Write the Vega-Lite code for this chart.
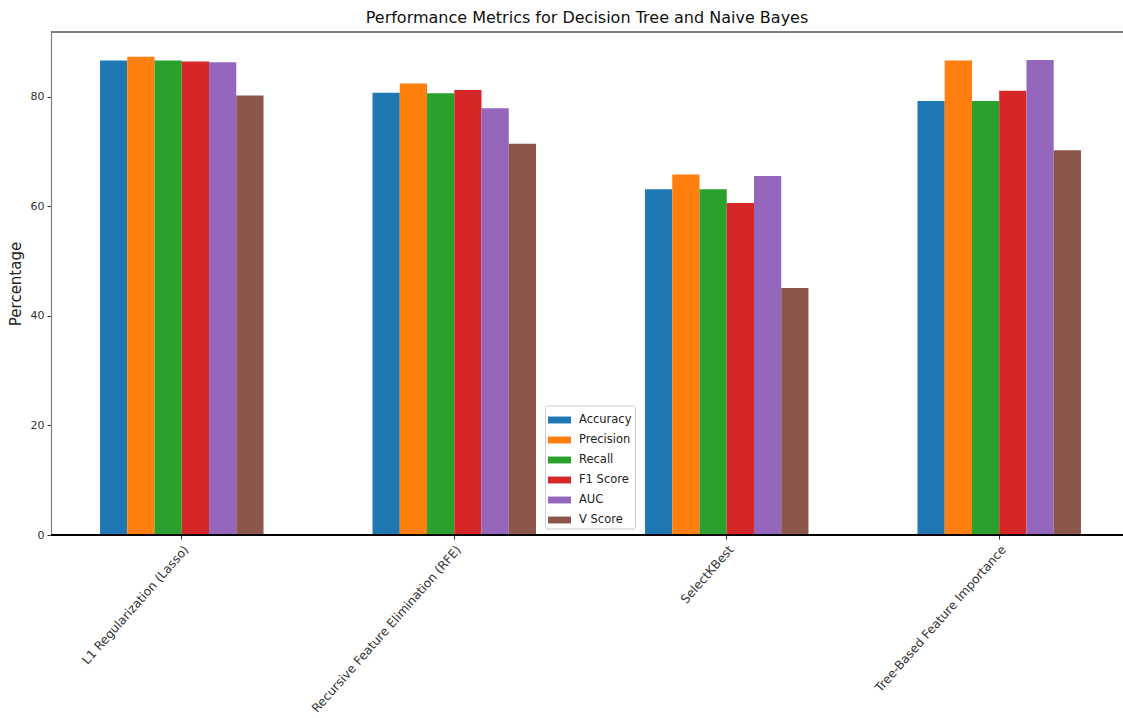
{
  "$schema": "https://vega.github.io/schema/vega-lite/v6.json",
  "autosize": "none",
  "width": 1072,
  "height": 503,
  "padding": {"left": 51, "top": 32, "right": 0, "bottom": 183},
  "background": "white",
  "config": {
    "font": "DejaVu Sans",
    "view": {"stroke": null},
    "axis": {"labelColor": "#333333", "titleColor": "#222222", "tickColor": "#333333", "labelFontSize": 11, "labelFont": "DejaVu Sans", "titleFont": "DejaVu Sans"}
  },
  "title": {"text": "Performance Metrics for Decision Tree and Naive Bayes", "fontSize": 16, "fontWeight": "normal", "color": "#111111", "font": "DejaVu Sans", "offset": 5},
  "data": {"values": [
    {"method": "L1 Regularization (Lasso)", "metric": "Accuracy", "value": 86.6},
    {"method": "L1 Regularization (Lasso)", "metric": "Precision", "value": 87.3},
    {"method": "L1 Regularization (Lasso)", "metric": "Recall", "value": 86.6},
    {"method": "L1 Regularization (Lasso)", "metric": "F1 Score", "value": 86.4},
    {"method": "L1 Regularization (Lasso)", "metric": "AUC", "value": 86.3},
    {"method": "L1 Regularization (Lasso)", "metric": "V Score", "value": 80.2},
    {"method": "Recursive Feature Elimination (RFE)", "metric": "Accuracy", "value": 80.7},
    {"method": "Recursive Feature Elimination (RFE)", "metric": "Precision", "value": 82.4},
    {"method": "Recursive Feature Elimination (RFE)", "metric": "Recall", "value": 80.6},
    {"method": "Recursive Feature Elimination (RFE)", "metric": "F1 Score", "value": 81.2},
    {"method": "Recursive Feature Elimination (RFE)", "metric": "AUC", "value": 77.9},
    {"method": "Recursive Feature Elimination (RFE)", "metric": "V Score", "value": 71.4},
    {"method": "SelectKBest", "metric": "Accuracy", "value": 63.1},
    {"method": "SelectKBest", "metric": "Precision", "value": 65.8},
    {"method": "SelectKBest", "metric": "Recall", "value": 63.1},
    {"method": "SelectKBest", "metric": "F1 Score", "value": 60.6},
    {"method": "SelectKBest", "metric": "AUC", "value": 65.5},
    {"method": "SelectKBest", "metric": "V Score", "value": 45.1},
    {"method": "Tree-Based Feature Importance", "metric": "Accuracy", "value": 79.2},
    {"method": "Tree-Based Feature Importance", "metric": "Precision", "value": 86.6},
    {"method": "Tree-Based Feature Importance", "metric": "Recall", "value": 79.2},
    {"method": "Tree-Based Feature Importance", "metric": "F1 Score", "value": 81.1},
    {"method": "Tree-Based Feature Importance", "metric": "AUC", "value": 86.7},
    {"method": "Tree-Based Feature Importance", "metric": "V Score", "value": 70.2}
  ]},
  "layer": [
    {
      "mark": {"type": "bar"},
      "encoding": {
        "x": {
          "field": "method", "type": "nominal", "sort": null,
          "scale": {"range": [0, 1079], "paddingInner": 0.4, "paddingOuter": 0.18},
          "axis": {"title": null, "labelAngle": -48.5, "labelAlign": "right", "labelBaseline": "top", "labelPadding": 4, "labelDx": -7, "labelFontSize": 12.2, "tickSize": 4, "domain": false, "bandPosition": 0.5, "labelLimit": 400}
        },
        "xOffset": {"field": "metric", "type": "nominal", "sort": ["Accuracy", "Precision", "Recall", "F1 Score", "AUC", "V Score"]},
        "y": {
          "field": "value", "type": "quantitative",
          "scale": {"domain": [0, 91.8], "nice": false, "zero": true},
          "axis": {"title": "Percentage", "titleFontSize": 15, "titleFontWeight": "normal", "titlePadding": 7, "values": [0, 20, 40, 60, 80], "grid": false, "tickSize": 4, "labelPadding": 3, "domain": true, "domainColor": "#7f7f7f", "domainWidth": 1.2}
        },
        "color": {
          "field": "metric", "type": "nominal",
          "sort": ["Accuracy", "Precision", "Recall", "F1 Score", "AUC", "V Score"],
          "scale": {"domain": ["Accuracy", "Precision", "Recall", "F1 Score", "AUC", "V Score"], "range": ["#1f77b4", "#ff7f0e", "#2ca02c", "#d62728", "#9467bd", "#8c564b"]},
          "legend": {
            "title": null, "orient": "none", "legendX": 494, "legendY": 373.5,
            "fillColor": "white", "strokeColor": "#cccccc", "cornerRadius": 2, "padding": 3,
            "symbolType": "M-1,-0.3H1V0.3H-1Z", "symbolSize": 529, "symbolStrokeWidth": 0, "symbolOpacity": 1,
            "labelFontSize": 11.5, "labelColor": "#222222", "labelOffset": 8, "rowPadding": 3
          }
        }
      }
    },
    {
      "mark": {"type": "rule", "color": "#7f7f7f", "strokeWidth": 1.2},
      "encoding": {"y": {"datum": 91.8}}
    },
    {
      "mark": {"type": "rule", "color": "black", "strokeWidth": 1.5},
      "encoding": {"y": {"datum": 0}}
    }
  ]
}
